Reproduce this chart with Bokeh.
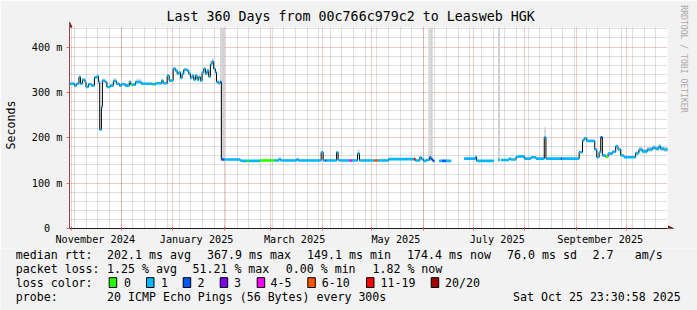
import math
from datetime import datetime, timedelta

from bokeh.plotting import figure
from bokeh.models import (Range1d, FixedTicker, Arrow, NormalHead, Title)
from bokeh.models.grids import Grid
from bokeh.core.properties import value
from bokeh.embed import file_html
from bokeh.resources import INLINE

nan = float("nan")

# ---------------------------------------------------------------- data
title_text = "Last 360 Days from 00c766c979c2 to Leasweb HGK"
end_time = datetime(2025, 10, 25, 23, 30, 58)
span_days = 360
start_time = end_time - timedelta(days=span_days)
y_top = 443

# median rtt (ms) as steps: value holds from days[i] to days[i+1]
days = [
    0.0, 3.0, 4.2, 5.7, 6.6, 7.8, 9.3, 9.9, 11.4, 13.2,
    15.0, 16.5, 17.4, 18.2, 19.2, 19.8, 21.3, 22.5, 24.6, 26.4,
    28.2, 30.0, 31.2, 33.6, 36.0, 36.9, 37.8, 39.8, 43.2, 49.8,
    50.4, 51.9, 55.5, 56.4, 58.8, 60.0, 62.4, 63.8, 64.8, 65.8,
    66.8, 67.8, 68.8, 70.8, 71.8, 72.8, 73.8, 74.8, 75.8, 76.8,
    77.8, 78.8, 79.8, 80.8, 81.8, 82.8, 83.8, 84.8, 85.8, 86.8,
    87.8, 88.5, 89.8, 90.6, 91.4, 93.3, 102.6, 103.8, 106.8, 108.0,
    114.6, 123.6, 126.0, 127.2, 136.8, 137.7, 151.5, 152.7, 153.9, 154.8,
    160.8, 161.7, 162.6, 168.6, 170.1, 173.4, 174.6, 183.6, 185.7, 192.0,
    207.3, 208.2, 210.9, 211.8, 213.0, 214.8, 216.0, 216.8, 217.5, 218.6,
    219.8, 222.6, 224.4, 226.8, 229.8, 237.6, 244.5, 245.1, 255.6, 258.0,
    259.2, 259.8, 264.6, 265.5, 268.8, 270.6, 273.8, 277.8, 280.8, 285.8,
    286.8, 295.8, 296.7, 306.8, 308.8, 309.8, 311.4, 316.2, 317.4, 318.8,
    319.8, 320.8, 322.8, 324.2, 326.8, 328.8, 330.2, 331.8, 333.8, 340.8,
    342.8, 344.8, 347.8, 350.8, 352.8, 354.8, 355.8, 357.8, 360.0,
]
rtt = [
    319, 315, 319, 334, 319, 328, 323, 312, 318, 315,
    333, 336, 323, 218, 268, 326, 323, 312, 315, 325,
    319, 315, 318, 315, 323, 317, 317, 323, 319, 318,
    318, 320, 326, 320, 337, 326, 352, 348, 341, 344,
    332, 341, 350, 348, 341, 332, 337, 328, 337, 328,
    334, 326, 344, 352, 341, 348, 335, 362, 368, 352,
    344, 323, 320, 323, 152, 152, 150, 149, 149, 149,
    150, 150, 153, 150, 153, 150, 168, 150, 150, 150,
    168, 151, 150, 150, 150, 165, 150, 150, 150, 153,
    153, 150, 157, 153, 149, 151, 151, 158, 153, 149,
    nan, 149, 149, 149, nan, 154, 158, 149, nan, 151,
    nan, 151, 154, 152, 158, 159, 154, 157, 154, 201,
    154, 154, 154, 168, 194, 199, 193, 174, 157, 168,
    201, 161, 158, 165, 169, 181, 174, 161, 157, 166,
    174, 170, 174, 178, 176, 181, 176, 174, 174,
]
loss = [
    "1", "1", "1", "1", "1", "1", "1", "1", "1", "1",
    "1", "1", "1", "1", "1", "1", "1", "1", "1", "1",
    "1", "1", "1", "1", "1", "0", "1", "1", "1", "0",
    "1", "1", "1", "1", "1", "1", "1", "1", "1", "1",
    "1", "1", "1", "1", "1", "1", "1", "1", "1", "1",
    "1", "1", "1", "1", "1", "1", "1", "1", "1", "1",
    "1", "1", "1", "2", "2", "1", "1", "1", "0", "1",
    "0", "1", "1", "1", "1", "1", "1", "1", "2", "1",
    "1", "1", "1", "4-5", "1", "1", "1", "6-10", "1", "1",
    "11-19", "1", "1", "1", "1", "1", "1", "1", "2", "2",
    "1", "1", "2", "1", "1", "1", "1", "1", "1", "1",
    "1", "1", "1", "1", "1", "1", "1", "1", "1", "1",
    "1", "2", "1", "1", "1", "1", "1", "1", "1", "1",
    "2", "1", "0", "1", "1", "1", "1", "1", "1", "1",
    "1", "1", "1", "1", "1", "1", "1", "1", "1",
]
smoke_up = [
    3, 3, 3, 4, 3, 3, 6, 3, 3, 3,
    3, 5, 3, 3, 3, 3, 3, 3, 3, 6,
    3, 3, 3, 3, 3, 3, 3, 6, 3, 3,
    3, 3, 4, 3, 3, 3, 4, 4, 3, 3,
    3, 3, 4, 3, 3, 3, 3, 3, 3, 3,
    3, 3, 4, 4, 3, 4, 3, 8, 8, 4,
    3, 3, 3, 300, 300, 2, 2, 2, 2, 2,
    2, 2, 2, 2, 2, 2, 3, 2, 2, 2,
    3, 2, 2, 2, 2, 9, 2, 2, 2, 2,
    2, 2, 2, 2, 2, 2, 300, 300, 300, 2,
    0, 2, 2, 2, 0, 2, 3, 2, 0, 300,
    0, 2, 2, 2, 2, 2, 2, 2, 2, 22,
    2, 2, 2, 3, 4, 3, 3, 3, 2, 3,
    3, 3, 3, 3, 3, 4, 3, 3, 3, 5,
    6, 6, 6, 6, 6, 6, 6, 6, 6,
]
smoke_dn = [
    2, 2, 2, 2, 2, 2, 2, 2, 2, 2,
    2, 2, 2, 2, 2, 2, 2, 2, 2, 2,
    2, 2, 2, 2, 2, 2, 2, 2, 2, 2,
    2, 2, 2, 2, 2, 2, 2, 2, 2, 2,
    2, 2, 2, 2, 2, 2, 2, 2, 2, 2,
    2, 2, 2, 2, 2, 2, 2, 2, 2, 2,
    2, 2, 2, 2, 1, 1, 1, 1, 1, 1,
    1, 1, 1, 1, 1, 1, 1, 1, 1, 1,
    1, 1, 1, 1, 1, 1, 1, 1, 1, 1,
    1, 1, 1, 1, 1, 1, 1, 1, 1, 1,
    0, 1, 1, 1, 0, 1, 1, 1, 0, 1,
    0, 1, 1, 1, 1, 1, 1, 1, 1, 1,
    1, 1, 1, 1, 1, 1, 1, 1, 1, 1,
    1, 1, 1, 1, 1, 1, 1, 1, 1, 4,
    5, 5, 5, 5, 5, 5, 5, 5, 5,
]

loss_labels = ["0", "1", "2", "3", "4-5", "6-10", "11-19", "20/20"]
loss_colors = ["#26ff00", "#00b8ff", "#0059ff", "#7e00ff",
               "#ff00ff", "#ff5500", "#ff0000", "#a00000"]

y_ticks = [0, 100, 200, 300, 400]
y_tick_labels = ["0\u00a0\u00a0", "100 m", "200 m", "300 m", "400 m"]
label_months = [(2024, 11), (2025, 1), (2025, 3), (2025, 5), (2025, 7), (2025, 9)]
label_names = ["November 2024", "January 2025", "March 2025",
               "May 2025", "July 2025", "September 2025"]

stat_rtt = ["202.1 ms avg", "367.9 ms max", "149.1 ms min",
            "174.4 ms now", "76.0 ms sd", "2.7", "am/s"]
stat_loss = ["1.25 % avg", "51.21 % max", "0.00 % min", "1.82 % now"]
probe_text = "20 ICMP Echo Pings (56 Bytes) every 300s"
stamp_text = "Sat Oct 25 23:30:58 2025"
watermark = "RRDTOOL / TOBI OETIKER"

# ---------------------------------------------------------------- layout
W, H = 697, 310
MAIN_H = 248
FX0, FX1, FXA = 67, 667, 674        # data left, data right, frame right (arrow room)
FYA, FY0, FY1 = 21, 27, 228         # frame top (arrow room), data top, data bottom
MONO = "DejaVu Sans Mono"
BG = "#f2f2f2"
GRID = "#8f8f8f"
MGRID = "#de4f4f"
ARROW = "#801f1f"

x_end = span_days * (FXA - FX0) / (FX1 - FX0)
y_end = y_top * (FY1 - FYA) / (FY1 - FY0)


def dx(px):
    return (px - FX0) / (FX1 - FX0) * span_days


def dy(py):
    return (FY1 - py) / (FY1 - FY0) * y_top


def dayoff(dt):
    return (dt - start_time).total_seconds() / 86400.0


month_starts = []
yy, mm = start_time.year, start_time.month + 1
while datetime(yy, mm, 1) < end_time:
    month_starts.append(dayoff(datetime(yy, mm, 1)))
    mm += 1
    if mm > 12:
        yy, mm = yy + 1, 1

sundays = []
d = datetime(start_time.year, start_time.month, start_time.day) + timedelta(days=1)
while d.weekday() != 6:
    d += timedelta(days=1)
while d < end_time:
    sundays.append(dayoff(d))
    d += timedelta(days=7)

label_ticks = [round(dayoff(datetime(y, m, 1)) + 14.5, 3) for y, m in label_months]

p = figure(width=W, height=MAIN_H, x_range=Range1d(0, x_end), y_range=Range1d(0, y_end),
           output_backend="svg", toolbar_location=None,
           min_border_left=FX0, min_border_right=W - FXA,
           min_border_top=FYA, min_border_bottom=MAIN_H - FY1,
           background_fill_color=BG, border_fill_color=BG,
           title=title_text)
p.outline_line_color = None

p.title.align = "left"
p.title.offset = 97
p.title.text_font = MONO
p.title.text_font_size = "13.3px"
p.title.text_font_style = "normal"
p.title.text_color = "black"
p.title.standoff = -5

# white canvas of the graph
canvas = p.quad(left=[0], right=[span_days], bottom=[0], top=[y_top],
                fill_color="white", line_color=None)
canvas.level = "image"

has_cross = "cross_bounds" in Grid.properties()

# grids
xg = p.xgrid[0]
xg.ticker = FixedTicker(ticks=month_starts, minor_ticks=sundays)
xg.bounds = (0, span_days)
if has_cross:
    xg.cross_bounds = (0, y_top)
xg.grid_line_color = MGRID
xg.grid_line_alpha = 0.6
xg.grid_line_dash = "1 1"
xg.minor_grid_line_color = GRID
xg.minor_grid_line_alpha = 0.6
xg.minor_grid_line_dash = "1 1"

yg = p.ygrid[0]
yg.ticker = FixedTicker(ticks=y_ticks,
                        minor_ticks=[v for v in range(20, y_top, 20) if v % 100])
yg.bounds = (0, y_top)
if has_cross:
    yg.cross_bounds = (0, span_days)
yg.grid_line_color = MGRID
yg.grid_line_alpha = 0.6
yg.grid_line_dash = "1 1"
yg.minor_grid_line_color = GRID
yg.minor_grid_line_alpha = 0.6
yg.minor_grid_line_dash = "1 1"

# axes
xa = p.xaxis[0]
xa.bounds = (0, span_days)
xa.ticker = FixedTicker(ticks=label_ticks, minor_ticks=month_starts)
xa.major_label_overrides = {t: n for t, n in zip(label_ticks, label_names)}
xa.major_tick_line_color = None
xa.major_tick_out = 0
xa.major_tick_in = 0
xa.minor_tick_line_color = MGRID
xa.minor_tick_line_alpha = 0.8
xa.minor_tick_in = 2
xa.minor_tick_out = 2
xa.major_label_standoff = 3
xa.major_label_text_font = MONO
xa.major_label_text_font_size = "10.2px"
xa.major_label_text_color = "black"
xa.axis_line_color = "#1f1f1f"

ya = p.yaxis[0]
ya.bounds = (0, y_top)
ya.ticker = FixedTicker(ticks=y_ticks, minor_ticks=[])
ya.major_label_overrides = {t: s for t, s in zip(y_ticks, y_tick_labels)}
ya.major_tick_line_color = MGRID
ya.major_tick_line_alpha = 0.8
ya.major_tick_out = 3
ya.major_tick_in = 0
ya.minor_tick_line_color = None
ya.major_label_standoff = 4
ya.major_label_text_font = MONO
ya.major_label_text_font_size = "10.2px"
ya.major_label_text_color = "black"
ya.axis_line_color = "#8c4a4a"
ya.axis_label = "Seconds"
ya.axis_label_text_font = MONO
ya.axis_label_text_font_size = "11.6px"
ya.axis_label_text_font_style = "normal"
ya.axis_label_text_color = "black"
ya.axis_label_standoff = 11

# smoke
lo = [r - s for r, s in zip(rtt[:-1], smoke_dn[:-1])]
hi = [min(r + s, y_top) for r, s in zip(rtt[:-1], smoke_up[:-1])]
p.quad(left=days[:-1], right=days[1:], bottom=lo, top=hi,
       fill_color="#d2d2d2", line_color=None)

# median line and loss-coloured steps
p.step(days, rtt, mode="after", line_color="black", line_width=1)
cmap = dict(zip(loss_labels, loss_colors))
p.segment(x0=days[:-1], x1=days[1:], y0=rtt[:-1], y1=rtt[:-1],
          line_color=[cmap[c] for c in loss[:-1]], line_width=2.6)

# axis arrows
p.add_layout(Arrow(end=NormalHead(size=5, fill_color=ARROW, line_color=ARROW),
                   x_start=0, y_start=y_top, x_end=0, y_end=dy(21.6),
                   line_color=ARROW, line_width=1))
p.add_layout(Arrow(end=NormalHead(size=5, fill_color=ARROW, line_color=ARROW),
                   x_start=span_days, y_start=0, x_end=dx(673), y_end=0,
                   line_color=ARROW, line_width=1))

# watermark on the right edge (reads top to bottom, ends ~y=112)
p.add_layout(Title(text=watermark, align="right", offset=FY1 - 112, standoff=9,
                   text_font=MONO, text_font_size="8.1px",
                   text_font_style="normal", text_color="#a8a8a8"), "right")

# ---------------------------------------------------------------- footer
foot = figure(width=W, height=H - MAIN_H, x_range=Range1d(0, W),
              y_range=Range1d(H, MAIN_H), output_backend="svg",
              toolbar_location=None, x_axis_type=None, y_axis_type=None,
              min_border=0, min_border_left=0, min_border_right=0,
              min_border_top=0, min_border_bottom=0,
              background_fill_color=BG, border_fill_color=BG)
foot.outline_line_color = None

row1, row2, row3, row4 = 254.3, 268.3, 282.3, 296.0
tx, ty, tt = [], [], []


def put(px, py, s):
    tx.append(px)
    ty.append(py)
    tt.append(s)


put(15.3, row1, "median rtt:")
for px, s in zip([106.6, 206.6, 306.6, 406.6, 506.6, 592.0, 634.3], stat_rtt):
    put(px, row1, s)
put(15.3, row2, "packet loss:")
for px, s in zip([106.6, 192.0, 285.3, 372.0], stat_loss):
    put(px, row2, s)
put(15.3, row3, "loss color:")
box_x = [108.7, 146.0, 182.7, 219.7, 256.7, 307.3, 366.0, 430.7]
lab_x = [123.4, 160.6, 197.0, 233.6, 270.0, 321.3, 380.0, 444.6]
for lx, lab in zip(lab_x, loss_labels):
    put(lx, row3, lab)
put(15.3, row4, "probe:")
put(106.6, row4, probe_text)
put(512.6, row4, stamp_text)

foot.text(x=tx, y=ty, text=tt, text_font=value(MONO), text_font_size=value("11.6px"),
          text_color="black", text_align="left", text_baseline="middle")
foot.quad(left=box_x, right=[b + 7.5 for b in box_x], top=[277.2] * 8,
          bottom=[287.0] * 8, fill_color=loss_colors, line_color="black",
          line_width=1)

open("out.html", "w").write(file_html([p, foot], INLINE))
